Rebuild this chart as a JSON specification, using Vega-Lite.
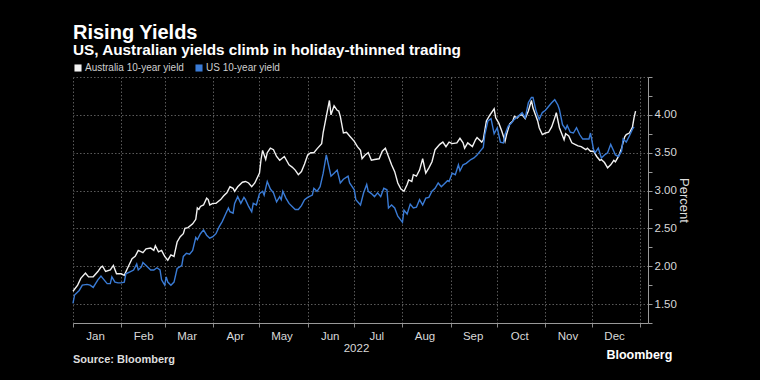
{
  "$schema": "https://vega.github.io/schema/vega-lite/v6.json",
  "background": "#000000",
  "padding": {"left": 70, "top": 22, "right": 80, "bottom": 30},
  "config": {"view": {"stroke": null}, "font": "Liberation Sans"},
  "title": {"text": "Bloomberg", "orient": "bottom", "anchor": "end", "color": "#ffffff", "fontSize": 12.5, "font": "Liberation Sans", "fontWeight": "bold", "offset": -16, "dx": -17},
  "resolve": {"legend": {"color": "independent"}},
  "vconcat": [{
    "title": {"text": "Rising Yields", "subtitle": "US, Australian yields climb in holiday-thinned trading", "anchor": "start", "orient": "top", "frame": "group", "color": "#ffffff", "fontSize": 20, "fontWeight": "bold", "subtitleColor": "#ffffff", "subtitleFontSize": 15.3, "subtitleFontWeight": "bold", "subtitlePadding": 0, "offset": 5},
    "resolve": {"legend": {"color": "independent"}},
    "vconcat": [{
      "width": 575,
      "height": 246,
      "title": {"text": "Source: Bloomberg", "orient": "bottom", "anchor": "start", "frame": "group", "fontSize": 11, "fontWeight": "bold", "color": "#dddddd", "offset": 0},
      "data": {"values": [
        {"d":"2022-01-01","s":"Australia 10-year yield","v":1.67},
        {"d":"2022-01-04","s":"Australia 10-year yield","v":1.75},
        {"d":"2022-01-06","s":"Australia 10-year yield","v":1.84},
        {"d":"2022-01-09","s":"Australia 10-year yield","v":1.91},
        {"d":"2022-01-11","s":"Australia 10-year yield","v":1.86},
        {"d":"2022-01-14","s":"Australia 10-year yield","v":1.86},
        {"d":"2022-01-17","s":"Australia 10-year yield","v":1.93},
        {"d":"2022-01-19","s":"Australia 10-year yield","v":1.99},
        {"d":"2022-01-20","s":"Australia 10-year yield","v":2.00},
        {"d":"2022-01-22","s":"Australia 10-year yield","v":1.93},
        {"d":"2022-01-25","s":"Australia 10-year yield","v":1.95},
        {"d":"2022-01-27","s":"Australia 10-year yield","v":2.01},
        {"d":"2022-01-29","s":"Australia 10-year yield","v":1.90},
        {"d":"2022-02-01","s":"Australia 10-year yield","v":1.90},
        {"d":"2022-02-03","s":"Australia 10-year yield","v":1.88},
        {"d":"2022-02-05","s":"Australia 10-year yield","v":1.97},
        {"d":"2022-02-08","s":"Australia 10-year yield","v":2.10},
        {"d":"2022-02-10","s":"Australia 10-year yield","v":2.13},
        {"d":"2022-02-12","s":"Australia 10-year yield","v":2.21},
        {"d":"2022-02-15","s":"Australia 10-year yield","v":2.18},
        {"d":"2022-02-17","s":"Australia 10-year yield","v":2.23},
        {"d":"2022-02-20","s":"Australia 10-year yield","v":2.24},
        {"d":"2022-02-22","s":"Australia 10-year yield","v":2.21},
        {"d":"2022-02-23","s":"Australia 10-year yield","v":2.27},
        {"d":"2022-02-25","s":"Australia 10-year yield","v":2.19},
        {"d":"2022-02-27","s":"Australia 10-year yield","v":2.21},
        {"d":"2022-03-01","s":"Australia 10-year yield","v":2.13},
        {"d":"2022-03-03","s":"Australia 10-year yield","v":2.08},
        {"d":"2022-03-05","s":"Australia 10-year yield","v":2.15},
        {"d":"2022-03-07","s":"Australia 10-year yield","v":2.13},
        {"d":"2022-03-09","s":"Australia 10-year yield","v":2.32},
        {"d":"2022-03-11","s":"Australia 10-year yield","v":2.39},
        {"d":"2022-03-13","s":"Australia 10-year yield","v":2.43},
        {"d":"2022-03-14","s":"Australia 10-year yield","v":2.50},
        {"d":"2022-03-16","s":"Australia 10-year yield","v":2.51},
        {"d":"2022-03-19","s":"Australia 10-year yield","v":2.56},
        {"d":"2022-03-21","s":"Australia 10-year yield","v":2.62},
        {"d":"2022-03-22","s":"Australia 10-year yield","v":2.77},
        {"d":"2022-03-23","s":"Australia 10-year yield","v":2.75},
        {"d":"2022-03-24","s":"Australia 10-year yield","v":2.79},
        {"d":"2022-03-26","s":"Australia 10-year yield","v":2.81},
        {"d":"2022-03-28","s":"Australia 10-year yield","v":2.90},
        {"d":"2022-03-29","s":"Australia 10-year yield","v":2.88},
        {"d":"2022-03-30","s":"Australia 10-year yield","v":2.81},
        {"d":"2022-04-01","s":"Australia 10-year yield","v":2.83},
        {"d":"2022-04-03","s":"Australia 10-year yield","v":2.83},
        {"d":"2022-04-06","s":"Australia 10-year yield","v":2.88},
        {"d":"2022-04-08","s":"Australia 10-year yield","v":2.93},
        {"d":"2022-04-10","s":"Australia 10-year yield","v":2.97},
        {"d":"2022-04-12","s":"Australia 10-year yield","v":3.05},
        {"d":"2022-04-14","s":"Australia 10-year yield","v":3.03},
        {"d":"2022-04-15","s":"Australia 10-year yield","v":2.99},
        {"d":"2022-04-17","s":"Australia 10-year yield","v":3.05},
        {"d":"2022-04-20","s":"Australia 10-year yield","v":3.11},
        {"d":"2022-04-22","s":"Australia 10-year yield","v":3.12},
        {"d":"2022-04-24","s":"Australia 10-year yield","v":3.10},
        {"d":"2022-04-26","s":"Australia 10-year yield","v":3.05},
        {"d":"2022-04-28","s":"Australia 10-year yield","v":3.10},
        {"d":"2022-05-01","s":"Australia 10-year yield","v":3.23},
        {"d":"2022-05-02","s":"Australia 10-year yield","v":3.41},
        {"d":"2022-05-03","s":"Australia 10-year yield","v":3.53},
        {"d":"2022-05-05","s":"Australia 10-year yield","v":3.41},
        {"d":"2022-05-06","s":"Australia 10-year yield","v":3.50},
        {"d":"2022-05-08","s":"Australia 10-year yield","v":3.56},
        {"d":"2022-05-10","s":"Australia 10-year yield","v":3.54},
        {"d":"2022-05-12","s":"Australia 10-year yield","v":3.45},
        {"d":"2022-05-14","s":"Australia 10-year yield","v":3.40},
        {"d":"2022-05-17","s":"Australia 10-year yield","v":3.45},
        {"d":"2022-05-20","s":"Australia 10-year yield","v":3.34},
        {"d":"2022-05-22","s":"Australia 10-year yield","v":3.31},
        {"d":"2022-05-24","s":"Australia 10-year yield","v":3.27},
        {"d":"2022-05-26","s":"Australia 10-year yield","v":3.21},
        {"d":"2022-05-28","s":"Australia 10-year yield","v":3.25},
        {"d":"2022-05-30","s":"Australia 10-year yield","v":3.35},
        {"d":"2022-06-01","s":"Australia 10-year yield","v":3.47},
        {"d":"2022-06-03","s":"Australia 10-year yield","v":3.50},
        {"d":"2022-06-05","s":"Australia 10-year yield","v":3.50},
        {"d":"2022-06-07","s":"Australia 10-year yield","v":3.55},
        {"d":"2022-06-10","s":"Australia 10-year yield","v":3.62},
        {"d":"2022-06-11","s":"Australia 10-year yield","v":3.77},
        {"d":"2022-06-13","s":"Australia 10-year yield","v":3.98},
        {"d":"2022-06-15","s":"Australia 10-year yield","v":4.19},
        {"d":"2022-06-16","s":"Australia 10-year yield","v":4.00},
        {"d":"2022-06-18","s":"Australia 10-year yield","v":4.12},
        {"d":"2022-06-20","s":"Australia 10-year yield","v":4.06},
        {"d":"2022-06-21","s":"Australia 10-year yield","v":4.05},
        {"d":"2022-06-22","s":"Australia 10-year yield","v":3.98},
        {"d":"2022-06-24","s":"Australia 10-year yield","v":3.76},
        {"d":"2022-06-26","s":"Australia 10-year yield","v":3.77},
        {"d":"2022-06-28","s":"Australia 10-year yield","v":3.72},
        {"d":"2022-07-01","s":"Australia 10-year yield","v":3.65},
        {"d":"2022-07-03","s":"Australia 10-year yield","v":3.58},
        {"d":"2022-07-05","s":"Australia 10-year yield","v":3.53},
        {"d":"2022-07-06","s":"Australia 10-year yield","v":3.42},
        {"d":"2022-07-08","s":"Australia 10-year yield","v":3.47},
        {"d":"2022-07-10","s":"Australia 10-year yield","v":3.50},
        {"d":"2022-07-12","s":"Australia 10-year yield","v":3.40},
        {"d":"2022-07-14","s":"Australia 10-year yield","v":3.41},
        {"d":"2022-07-17","s":"Australia 10-year yield","v":3.42},
        {"d":"2022-07-19","s":"Australia 10-year yield","v":3.52},
        {"d":"2022-07-21","s":"Australia 10-year yield","v":3.56},
        {"d":"2022-07-23","s":"Australia 10-year yield","v":3.45},
        {"d":"2022-07-25","s":"Australia 10-year yield","v":3.34},
        {"d":"2022-07-27","s":"Australia 10-year yield","v":3.25},
        {"d":"2022-07-29","s":"Australia 10-year yield","v":3.10},
        {"d":"2022-07-31","s":"Australia 10-year yield","v":3.02},
        {"d":"2022-08-02","s":"Australia 10-year yield","v":2.99},
        {"d":"2022-08-04","s":"Australia 10-year yield","v":3.08},
        {"d":"2022-08-05","s":"Australia 10-year yield","v":3.14},
        {"d":"2022-08-07","s":"Australia 10-year yield","v":3.12},
        {"d":"2022-08-08","s":"Australia 10-year yield","v":3.21},
        {"d":"2022-08-10","s":"Australia 10-year yield","v":3.19},
        {"d":"2022-08-12","s":"Australia 10-year yield","v":3.27},
        {"d":"2022-08-14","s":"Australia 10-year yield","v":3.42},
        {"d":"2022-08-16","s":"Australia 10-year yield","v":3.23},
        {"d":"2022-08-18","s":"Australia 10-year yield","v":3.30},
        {"d":"2022-08-20","s":"Australia 10-year yield","v":3.38},
        {"d":"2022-08-22","s":"Australia 10-year yield","v":3.54},
        {"d":"2022-08-25","s":"Australia 10-year yield","v":3.61},
        {"d":"2022-08-27","s":"Australia 10-year yield","v":3.64},
        {"d":"2022-08-29","s":"Australia 10-year yield","v":3.58},
        {"d":"2022-08-31","s":"Australia 10-year yield","v":3.64},
        {"d":"2022-09-02","s":"Australia 10-year yield","v":3.62},
        {"d":"2022-09-05","s":"Australia 10-year yield","v":3.63},
        {"d":"2022-09-07","s":"Australia 10-year yield","v":3.69},
        {"d":"2022-09-09","s":"Australia 10-year yield","v":3.63},
        {"d":"2022-09-10","s":"Australia 10-year yield","v":3.56},
        {"d":"2022-09-12","s":"Australia 10-year yield","v":3.63},
        {"d":"2022-09-15","s":"Australia 10-year yield","v":3.58},
        {"d":"2022-09-17","s":"Australia 10-year yield","v":3.67},
        {"d":"2022-09-18","s":"Australia 10-year yield","v":3.70},
        {"d":"2022-09-21","s":"Australia 10-year yield","v":3.64},
        {"d":"2022-09-22","s":"Australia 10-year yield","v":3.67},
        {"d":"2022-09-24","s":"Australia 10-year yield","v":3.92},
        {"d":"2022-09-26","s":"Australia 10-year yield","v":3.99},
        {"d":"2022-09-29","s":"Australia 10-year yield","v":4.08},
        {"d":"2022-09-30","s":"Australia 10-year yield","v":3.96},
        {"d":"2022-10-02","s":"Australia 10-year yield","v":3.89},
        {"d":"2022-10-04","s":"Australia 10-year yield","v":3.78},
        {"d":"2022-10-06","s":"Australia 10-year yield","v":3.65},
        {"d":"2022-10-07","s":"Australia 10-year yield","v":3.74},
        {"d":"2022-10-09","s":"Australia 10-year yield","v":3.88},
        {"d":"2022-10-11","s":"Australia 10-year yield","v":3.92},
        {"d":"2022-10-12","s":"Australia 10-year yield","v":3.98},
        {"d":"2022-10-14","s":"Australia 10-year yield","v":3.96},
        {"d":"2022-10-15","s":"Australia 10-year yield","v":3.99},
        {"d":"2022-10-17","s":"Australia 10-year yield","v":4.00},
        {"d":"2022-10-19","s":"Australia 10-year yield","v":3.95},
        {"d":"2022-10-21","s":"Australia 10-year yield","v":4.05},
        {"d":"2022-10-23","s":"Australia 10-year yield","v":4.19},
        {"d":"2022-10-24","s":"Australia 10-year yield","v":4.09},
        {"d":"2022-10-27","s":"Australia 10-year yield","v":3.92},
        {"d":"2022-10-28","s":"Australia 10-year yield","v":3.83},
        {"d":"2022-10-30","s":"Australia 10-year yield","v":3.74},
        {"d":"2022-11-01","s":"Australia 10-year yield","v":3.76},
        {"d":"2022-11-03","s":"Australia 10-year yield","v":3.77},
        {"d":"2022-11-05","s":"Australia 10-year yield","v":3.84},
        {"d":"2022-11-07","s":"Australia 10-year yield","v":3.96},
        {"d":"2022-11-08","s":"Australia 10-year yield","v":4.03},
        {"d":"2022-11-10","s":"Australia 10-year yield","v":3.83},
        {"d":"2022-11-13","s":"Australia 10-year yield","v":3.67},
        {"d":"2022-11-14","s":"Australia 10-year yield","v":3.75},
        {"d":"2022-11-16","s":"Australia 10-year yield","v":3.72},
        {"d":"2022-11-18","s":"Australia 10-year yield","v":3.63},
        {"d":"2022-11-20","s":"Australia 10-year yield","v":3.61},
        {"d":"2022-11-22","s":"Australia 10-year yield","v":3.59},
        {"d":"2022-11-24","s":"Australia 10-year yield","v":3.58},
        {"d":"2022-11-27","s":"Australia 10-year yield","v":3.54},
        {"d":"2022-11-28","s":"Australia 10-year yield","v":3.56},
        {"d":"2022-11-30","s":"Australia 10-year yield","v":3.52},
        {"d":"2022-12-02","s":"Australia 10-year yield","v":3.52},
        {"d":"2022-12-04","s":"Australia 10-year yield","v":3.45},
        {"d":"2022-12-06","s":"Australia 10-year yield","v":3.40},
        {"d":"2022-12-07","s":"Australia 10-year yield","v":3.41},
        {"d":"2022-12-09","s":"Australia 10-year yield","v":3.37},
        {"d":"2022-12-11","s":"Australia 10-year yield","v":3.30},
        {"d":"2022-12-13","s":"Australia 10-year yield","v":3.34},
        {"d":"2022-12-15","s":"Australia 10-year yield","v":3.40},
        {"d":"2022-12-16","s":"Australia 10-year yield","v":3.38},
        {"d":"2022-12-18","s":"Australia 10-year yield","v":3.45},
        {"d":"2022-12-20","s":"Australia 10-year yield","v":3.56},
        {"d":"2022-12-22","s":"Australia 10-year yield","v":3.71},
        {"d":"2022-12-23","s":"Australia 10-year yield","v":3.74},
        {"d":"2022-12-25","s":"Australia 10-year yield","v":3.76},
        {"d":"2022-12-27","s":"Australia 10-year yield","v":3.84},
        {"d":"2022-12-28","s":"Australia 10-year yield","v":3.96},
        {"d":"2022-12-29","s":"Australia 10-year yield","v":4.05},
        {"d":"2022-01-01","s":"US 10-year yield","v":1.51},
        {"d":"2022-01-02","s":"US 10-year yield","v":1.62},
        {"d":"2022-01-05","s":"US 10-year yield","v":1.68},
        {"d":"2022-01-07","s":"US 10-year yield","v":1.75},
        {"d":"2022-01-10","s":"US 10-year yield","v":1.76},
        {"d":"2022-01-12","s":"US 10-year yield","v":1.75},
        {"d":"2022-01-14","s":"US 10-year yield","v":1.72},
        {"d":"2022-01-17","s":"US 10-year yield","v":1.82},
        {"d":"2022-01-19","s":"US 10-year yield","v":1.87},
        {"d":"2022-01-21","s":"US 10-year yield","v":1.82},
        {"d":"2022-01-23","s":"US 10-year yield","v":1.77},
        {"d":"2022-01-25","s":"US 10-year yield","v":1.77},
        {"d":"2022-01-26","s":"US 10-year yield","v":1.86},
        {"d":"2022-01-28","s":"US 10-year yield","v":1.79},
        {"d":"2022-01-30","s":"US 10-year yield","v":1.78},
        {"d":"2022-02-01","s":"US 10-year yield","v":1.78},
        {"d":"2022-02-03","s":"US 10-year yield","v":1.79},
        {"d":"2022-02-04","s":"US 10-year yield","v":1.90},
        {"d":"2022-02-07","s":"US 10-year yield","v":1.93},
        {"d":"2022-02-09","s":"US 10-year yield","v":1.95},
        {"d":"2022-02-11","s":"US 10-year yield","v":2.03},
        {"d":"2022-02-12","s":"US 10-year yield","v":1.95},
        {"d":"2022-02-14","s":"US 10-year yield","v":1.99},
        {"d":"2022-02-15","s":"US 10-year yield","v":2.05},
        {"d":"2022-02-18","s":"US 10-year yield","v":1.99},
        {"d":"2022-02-20","s":"US 10-year yield","v":1.95},
        {"d":"2022-02-22","s":"US 10-year yield","v":1.95},
        {"d":"2022-02-24","s":"US 10-year yield","v":1.98},
        {"d":"2022-02-26","s":"US 10-year yield","v":1.95},
        {"d":"2022-02-27","s":"US 10-year yield","v":1.82},
        {"d":"2022-03-01","s":"US 10-year yield","v":1.75},
        {"d":"2022-03-02","s":"US 10-year yield","v":1.86},
        {"d":"2022-03-03","s":"US 10-year yield","v":1.79},
        {"d":"2022-03-05","s":"US 10-year yield","v":1.75},
        {"d":"2022-03-07","s":"US 10-year yield","v":1.79},
        {"d":"2022-03-09","s":"US 10-year yield","v":1.97},
        {"d":"2022-03-12","s":"US 10-year yield","v":2.01},
        {"d":"2022-03-13","s":"US 10-year yield","v":2.13},
        {"d":"2022-03-15","s":"US 10-year yield","v":2.17},
        {"d":"2022-03-17","s":"US 10-year yield","v":2.16},
        {"d":"2022-03-19","s":"US 10-year yield","v":2.21},
        {"d":"2022-03-21","s":"US 10-year yield","v":2.38},
        {"d":"2022-03-22","s":"US 10-year yield","v":2.35},
        {"d":"2022-03-24","s":"US 10-year yield","v":2.43},
        {"d":"2022-03-26","s":"US 10-year yield","v":2.48},
        {"d":"2022-03-28","s":"US 10-year yield","v":2.41},
        {"d":"2022-03-30","s":"US 10-year yield","v":2.37},
        {"d":"2022-04-01","s":"US 10-year yield","v":2.39},
        {"d":"2022-04-03","s":"US 10-year yield","v":2.43},
        {"d":"2022-04-05","s":"US 10-year yield","v":2.52},
        {"d":"2022-04-07","s":"US 10-year yield","v":2.59},
        {"d":"2022-04-09","s":"US 10-year yield","v":2.68},
        {"d":"2022-04-11","s":"US 10-year yield","v":2.77},
        {"d":"2022-04-12","s":"US 10-year yield","v":2.72},
        {"d":"2022-04-14","s":"US 10-year yield","v":2.70},
        {"d":"2022-04-15","s":"US 10-year yield","v":2.83},
        {"d":"2022-04-17","s":"US 10-year yield","v":2.92},
        {"d":"2022-04-19","s":"US 10-year yield","v":2.83},
        {"d":"2022-04-21","s":"US 10-year yield","v":2.91},
        {"d":"2022-04-22","s":"US 10-year yield","v":2.88},
        {"d":"2022-04-24","s":"US 10-year yield","v":2.79},
        {"d":"2022-04-26","s":"US 10-year yield","v":2.72},
        {"d":"2022-04-27","s":"US 10-year yield","v":2.83},
        {"d":"2022-04-29","s":"US 10-year yield","v":2.81},
        {"d":"2022-05-01","s":"US 10-year yield","v":2.96},
        {"d":"2022-05-03","s":"US 10-year yield","v":2.99},
        {"d":"2022-05-04","s":"US 10-year yield","v":2.94},
        {"d":"2022-05-06","s":"US 10-year yield","v":3.12},
        {"d":"2022-05-08","s":"US 10-year yield","v":3.02},
        {"d":"2022-05-10","s":"US 10-year yield","v":2.97},
        {"d":"2022-05-12","s":"US 10-year yield","v":2.85},
        {"d":"2022-05-14","s":"US 10-year yield","v":2.92},
        {"d":"2022-05-15","s":"US 10-year yield","v":2.88},
        {"d":"2022-05-16","s":"US 10-year yield","v":2.99},
        {"d":"2022-05-18","s":"US 10-year yield","v":2.90},
        {"d":"2022-05-20","s":"US 10-year yield","v":2.83},
        {"d":"2022-05-22","s":"US 10-year yield","v":2.79},
        {"d":"2022-05-24","s":"US 10-year yield","v":2.75},
        {"d":"2022-05-26","s":"US 10-year yield","v":2.75},
        {"d":"2022-05-28","s":"US 10-year yield","v":2.80},
        {"d":"2022-05-30","s":"US 10-year yield","v":2.88},
        {"d":"2022-06-01","s":"US 10-year yield","v":2.91},
        {"d":"2022-06-04","s":"US 10-year yield","v":2.94},
        {"d":"2022-06-05","s":"US 10-year yield","v":3.03},
        {"d":"2022-06-07","s":"US 10-year yield","v":2.99},
        {"d":"2022-06-09","s":"US 10-year yield","v":3.05},
        {"d":"2022-06-11","s":"US 10-year yield","v":3.23},
        {"d":"2022-06-13","s":"US 10-year yield","v":3.47},
        {"d":"2022-06-16","s":"US 10-year yield","v":3.19},
        {"d":"2022-06-18","s":"US 10-year yield","v":3.23},
        {"d":"2022-06-20","s":"US 10-year yield","v":3.27},
        {"d":"2022-06-22","s":"US 10-year yield","v":3.10},
        {"d":"2022-06-24","s":"US 10-year yield","v":3.15},
        {"d":"2022-06-27","s":"US 10-year yield","v":3.19},
        {"d":"2022-06-28","s":"US 10-year yield","v":3.10},
        {"d":"2022-07-01","s":"US 10-year yield","v":3.01},
        {"d":"2022-07-02","s":"US 10-year yield","v":2.88},
        {"d":"2022-07-05","s":"US 10-year yield","v":2.81},
        {"d":"2022-07-07","s":"US 10-year yield","v":2.97},
        {"d":"2022-07-09","s":"US 10-year yield","v":3.08},
        {"d":"2022-07-10","s":"US 10-year yield","v":2.99},
        {"d":"2022-07-12","s":"US 10-year yield","v":2.96},
        {"d":"2022-07-14","s":"US 10-year yield","v":2.92},
        {"d":"2022-07-16","s":"US 10-year yield","v":2.97},
        {"d":"2022-07-18","s":"US 10-year yield","v":2.92},
        {"d":"2022-07-20","s":"US 10-year yield","v":3.03},
        {"d":"2022-07-22","s":"US 10-year yield","v":3.01},
        {"d":"2022-07-23","s":"US 10-year yield","v":2.77},
        {"d":"2022-07-25","s":"US 10-year yield","v":2.81},
        {"d":"2022-07-27","s":"US 10-year yield","v":2.77},
        {"d":"2022-07-29","s":"US 10-year yield","v":2.66},
        {"d":"2022-08-01","s":"US 10-year yield","v":2.58},
        {"d":"2022-08-02","s":"US 10-year yield","v":2.74},
        {"d":"2022-08-04","s":"US 10-year yield","v":2.69},
        {"d":"2022-08-06","s":"US 10-year yield","v":2.82},
        {"d":"2022-08-08","s":"US 10-year yield","v":2.77},
        {"d":"2022-08-10","s":"US 10-year yield","v":2.78},
        {"d":"2022-08-12","s":"US 10-year yield","v":2.88},
        {"d":"2022-08-14","s":"US 10-year yield","v":2.81},
        {"d":"2022-08-16","s":"US 10-year yield","v":2.90},
        {"d":"2022-08-18","s":"US 10-year yield","v":2.91},
        {"d":"2022-08-20","s":"US 10-year yield","v":2.99},
        {"d":"2022-08-22","s":"US 10-year yield","v":3.03},
        {"d":"2022-08-24","s":"US 10-year yield","v":3.10},
        {"d":"2022-08-26","s":"US 10-year yield","v":3.05},
        {"d":"2022-08-28","s":"US 10-year yield","v":3.09},
        {"d":"2022-08-30","s":"US 10-year yield","v":3.13},
        {"d":"2022-08-31","s":"US 10-year yield","v":3.12},
        {"d":"2022-09-02","s":"US 10-year yield","v":3.23},
        {"d":"2022-09-04","s":"US 10-year yield","v":3.21},
        {"d":"2022-09-06","s":"US 10-year yield","v":3.34},
        {"d":"2022-09-07","s":"US 10-year yield","v":3.26},
        {"d":"2022-09-09","s":"US 10-year yield","v":3.34},
        {"d":"2022-09-11","s":"US 10-year yield","v":3.36},
        {"d":"2022-09-14","s":"US 10-year yield","v":3.41},
        {"d":"2022-09-16","s":"US 10-year yield","v":3.43},
        {"d":"2022-09-18","s":"US 10-year yield","v":3.47},
        {"d":"2022-09-20","s":"US 10-year yield","v":3.52},
        {"d":"2022-09-22","s":"US 10-year yield","v":3.57},
        {"d":"2022-09-23","s":"US 10-year yield","v":3.74},
        {"d":"2022-09-25","s":"US 10-year yield","v":3.92},
        {"d":"2022-09-27","s":"US 10-year yield","v":3.95},
        {"d":"2022-09-29","s":"US 10-year yield","v":3.75},
        {"d":"2022-10-01","s":"US 10-year yield","v":3.83},
        {"d":"2022-10-03","s":"US 10-year yield","v":3.64},
        {"d":"2022-10-05","s":"US 10-year yield","v":3.63},
        {"d":"2022-10-06","s":"US 10-year yield","v":3.74},
        {"d":"2022-10-08","s":"US 10-year yield","v":3.85},
        {"d":"2022-10-10","s":"US 10-year yield","v":3.89},
        {"d":"2022-10-12","s":"US 10-year yield","v":3.94},
        {"d":"2022-10-15","s":"US 10-year yield","v":3.99},
        {"d":"2022-10-17","s":"US 10-year yield","v":4.03},
        {"d":"2022-10-19","s":"US 10-year yield","v":3.96},
        {"d":"2022-10-21","s":"US 10-year yield","v":4.16},
        {"d":"2022-10-23","s":"US 10-year yield","v":4.23},
        {"d":"2022-10-24","s":"US 10-year yield","v":4.23},
        {"d":"2022-10-26","s":"US 10-year yield","v":4.05},
        {"d":"2022-10-28","s":"US 10-year yield","v":3.94},
        {"d":"2022-10-30","s":"US 10-year yield","v":4.03},
        {"d":"2022-11-01","s":"US 10-year yield","v":4.06},
        {"d":"2022-11-03","s":"US 10-year yield","v":4.11},
        {"d":"2022-11-05","s":"US 10-year yield","v":4.16},
        {"d":"2022-11-07","s":"US 10-year yield","v":4.20},
        {"d":"2022-11-09","s":"US 10-year yield","v":4.13},
        {"d":"2022-11-10","s":"US 10-year yield","v":4.07},
        {"d":"2022-11-12","s":"US 10-year yield","v":3.87},
        {"d":"2022-11-14","s":"US 10-year yield","v":3.81},
        {"d":"2022-11-15","s":"US 10-year yield","v":3.86},
        {"d":"2022-11-17","s":"US 10-year yield","v":3.77},
        {"d":"2022-11-19","s":"US 10-year yield","v":3.76},
        {"d":"2022-11-21","s":"US 10-year yield","v":3.83},
        {"d":"2022-11-23","s":"US 10-year yield","v":3.74},
        {"d":"2022-11-25","s":"US 10-year yield","v":3.68},
        {"d":"2022-11-27","s":"US 10-year yield","v":3.68},
        {"d":"2022-11-29","s":"US 10-year yield","v":3.68},
        {"d":"2022-11-30","s":"US 10-year yield","v":3.76},
        {"d":"2022-12-02","s":"US 10-year yield","v":3.54},
        {"d":"2022-12-03","s":"US 10-year yield","v":3.50},
        {"d":"2022-12-05","s":"US 10-year yield","v":3.56},
        {"d":"2022-12-07","s":"US 10-year yield","v":3.43},
        {"d":"2022-12-09","s":"US 10-year yield","v":3.47},
        {"d":"2022-12-11","s":"US 10-year yield","v":3.50},
        {"d":"2022-12-13","s":"US 10-year yield","v":3.61},
        {"d":"2022-12-15","s":"US 10-year yield","v":3.52},
        {"d":"2022-12-16","s":"US 10-year yield","v":3.47},
        {"d":"2022-12-18","s":"US 10-year yield","v":3.45},
        {"d":"2022-12-20","s":"US 10-year yield","v":3.52},
        {"d":"2022-12-21","s":"US 10-year yield","v":3.68},
        {"d":"2022-12-23","s":"US 10-year yield","v":3.64},
        {"d":"2022-12-25","s":"US 10-year yield","v":3.72},
        {"d":"2022-12-27","s":"US 10-year yield","v":3.81},
        {"d":"2022-12-28","s":"US 10-year yield","v":3.84}
      ]},
      "mark": {"type": "line", "strokeWidth": 1.4},
      "encoding": {
        "x": {
          "field": "d", "type": "temporal",
          "scale": {"type": "utc", "domain": [{"year": 2022, "month": 1, "date": 1, "utc": true}, {"year": 2023, "month": 1, "date": 6, "utc": true}]},
          "axis": {
            "values": [
              {"year": 2022, "month": 1, "date": 1, "utc": true},
              {"year": 2022, "month": 2, "date": 1, "utc": true},
              {"year": 2022, "month": 3, "date": 1, "utc": true},
              {"year": 2022, "month": 4, "date": 1, "utc": true},
              {"year": 2022, "month": 5, "date": 1, "utc": true},
              {"year": 2022, "month": 6, "date": 1, "utc": true},
              {"year": 2022, "month": 7, "date": 1, "utc": true},
              {"year": 2022, "month": 8, "date": 1, "utc": true},
              {"year": 2022, "month": 9, "date": 1, "utc": true},
              {"year": 2022, "month": 10, "date": 1, "utc": true},
              {"year": 2022, "month": 11, "date": 1, "utc": true},
              {"year": 2022, "month": 12, "date": 1, "utc": true},
              {"year": 2023, "month": 1, "date": 1, "utc": true}
            ],
            "labelExpr": "utcyear(datum.value) > 2022 ? '' : utcFormat(datum.value, '%b')",
            "labelOffset": 22,
            "labelAlign": "center",
            "labelFlush": false,
            "labelOverlap": false,
            "labelColor": "#d9d9d9",
            "labelFontSize": 11.5,
            "labelPadding": 3,
            "tickColor": "#888888",
            "tickSize": 4,
            "domainColor": "#999999",
            "grid": true,
            "gridColor": "#5a5a5a",
            "gridDash": [1.5, 2],
            "title": "2022",
            "titleColor": "#d9d9d9",
            "titleFontSize": 11.5,
            "titleFontWeight": "normal",
            "titlePadding": 1,
            "titleX": 283
          }
        },
        "y": {
          "field": "v", "type": "quantitative",
          "scale": {"domain": [1.25, 4.5], "nice": false, "zero": false},
          "axis": {
            "orient": "right",
            "values": [1.25, 1.5, 1.75, 2, 2.25, 2.5, 2.75, 3, 3.25, 3.5, 3.75, 4, 4.25, 4.5],
            "labelExpr": "datum.value > 4.4 || abs(datum.value * 2 - round(datum.value * 2)) > 0.01 ? '' : format(datum.value, '.2f')",
            "labelColor": "#d9d9d9",
            "labelFontSize": 11.5,
            "labelPadding": 2,
            "tickColor": "#999999",
            "tickSize": 4,
            "domainColor": "#999999",
            "grid": true,
            "gridColor": "#5a5a5a",
            "gridDash": [1.5, 2],
            "gridOpacity": {"condition": {"test": "abs(datum.value * 2 - round(datum.value * 2)) < 0.01", "value": 1}, "value": 0},
            "title": "Percent",
            "titleColor": "#dddddd",
            "titleFontSize": 13,
            "titleFontWeight": "normal",
            "titlePadding": 0
          }
        },
        "color": {
          "field": "s", "type": "nominal",
          "scale": {"domain": ["Australia 10-year yield", "US 10-year yield"], "range": ["#f2f2f2", "#3a7bd5"]},
          "legend": {
            "orient": "top",
            "direction": "horizontal",
            "title": null,
            "symbolType": "square",
            "symbolSize": 50,
            "symbolStrokeWidth": 0,
            "labelColor": "#cfcfcf",
            "labelFontSize": 10,
            "labelOffset": 2,
            "columnPadding": 10,
            "offset": 4,
            "padding": 0,
            "encode": {"symbols": {"update": {"fill": {"scale": "color", "field": "value"}, "fillOpacity": {"value": 1}}}}
          }
        }
      }
    }]
  }]
}
